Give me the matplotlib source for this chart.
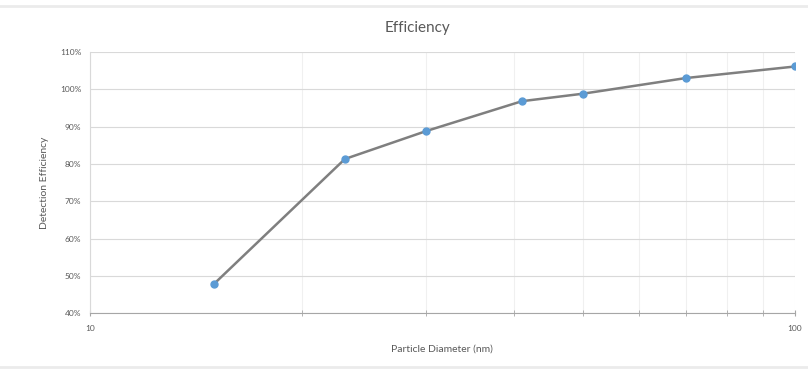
import matplotlib
matplotlib.use("Agg")
from matplotlib import pyplot as plt
from matplotlib.ticker import FixedLocator, NullFormatter, PercentFormatter

# values
diameter = [15, 23, 30, 41, 50, 70, 100]
efficiency = [47.8, 81.3, 88.8, 96.8, 98.8, 103.0, 106.1]
y_ticks = [40, 50, 60, 70, 80, 90, 100, 110]

plt.rcParams['font.family'] = ['Lato', 'DejaVu Sans']

fig = plt.figure(figsize=(8.08, 3.71), dpi=100)
ax = fig.add_axes([0.111, 0.156, 0.873, 0.704])

ax.plot(diameter, efficiency, color='#7f7f7f', lw=1.8, zorder=3)
ax.plot(diameter, efficiency, 'o', color='#5b9bd5', ms=5, zorder=4)

ax.set_xscale('log')
ax.set_xlim(10, 100)
ax.set_ylim(40, 110)
ax.set_yticks(y_ticks)
ax.yaxis.set_major_formatter(PercentFormatter(decimals=0))
ax.xaxis.set_major_locator(FixedLocator([10, 100]))
ax.xaxis.set_minor_locator(FixedLocator(range(20, 100, 10)))
ax.xaxis.set_minor_formatter(NullFormatter())
ax.set_xticklabels(['10', '100'])

ax.grid(True, which='both', axis='x', color='#f0f0f0', lw=0.8)
ax.grid(True, which='major', axis='y', color='#d9d9d9', lw=0.8)
ax.set_axisbelow(True)

for s in ['top', 'right']:
    ax.spines[s].set_visible(False)
ax.spines['left'].set_color('#d9d9d9')
ax.spines['bottom'].set_color('#a6a6a6')

ax.tick_params(axis='y', length=0, labelsize=6, labelcolor='#595959', pad=6)
ax.tick_params(axis='x', which='both', direction='inout', length=5,
               color='#a6a6a6', labelsize=6, labelcolor='#595959', pad=6)

ax.set_xlabel('Particle Diameter (nm)', fontsize=7.5, color='#595959', labelpad=9)
ax.set_ylabel('Detection Efficiency', fontsize=7.5, color='#595959', labelpad=8)
fig.text(0.517, 0.925, 'Efficiency', fontsize=11, color='#595959',
         ha='center', va='center')

# light frame lines like the excel chart border
fig.add_artist(plt.Line2D([0, 1], [0.985, 0.985], color='#ebebeb', lw=2))
fig.add_artist(plt.Line2D([0, 1], [0.01, 0.01], color='#ebebeb', lw=2))

fig.savefig('out.png', dpi=100)
